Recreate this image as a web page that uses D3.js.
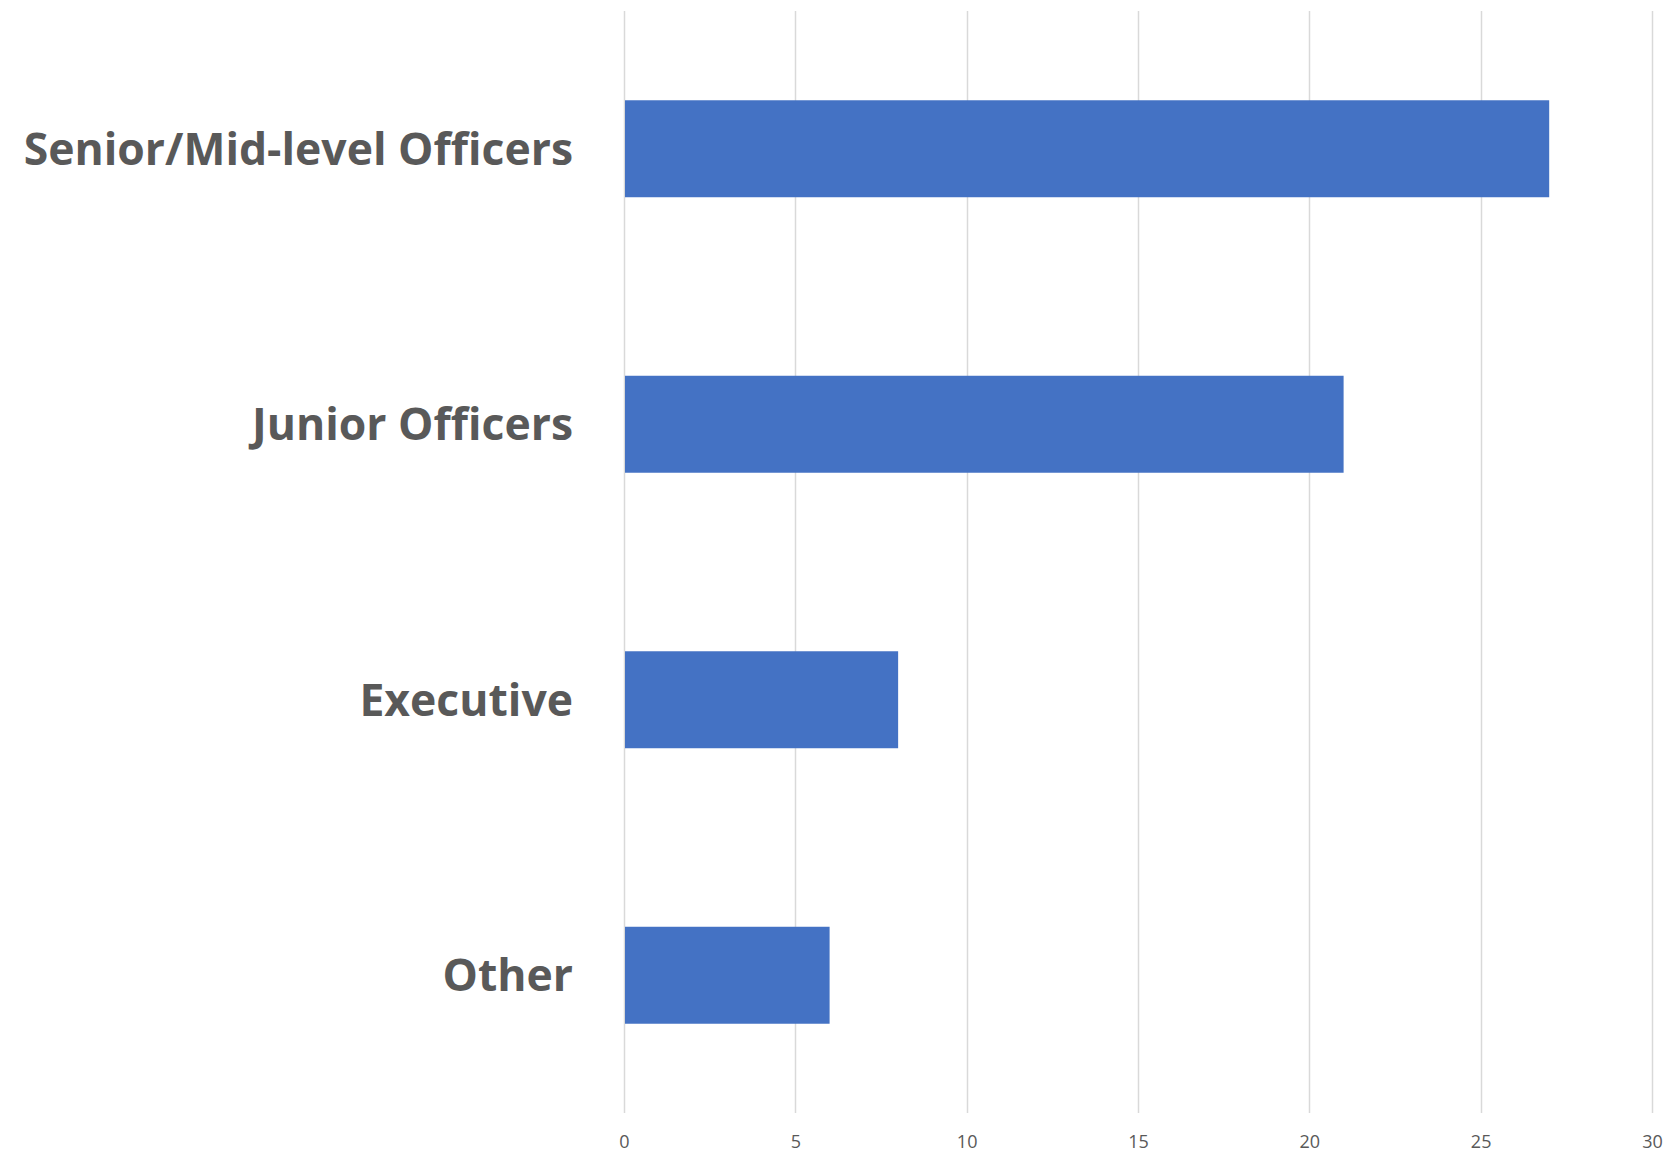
<!DOCTYPE html>
<html>
<head>
<meta charset="utf-8">
<script src="https://cdn.jsdelivr.net/npm/d3@7"></script>
<style>
  body { margin: 0; background: #fff; }
</style>
</head>
<body>
<div class="chartWrap"></div>
<script>
var categories = ['Senior/Mid-level Officers', 'Junior Officers', 'Executive', 'Other'],
  values = [27, 21, 8, 6],
  tickValues = [0, 5, 10, 15, 20, 25, 30];

var width = 1670,
  height = 1153,
  margin = {top: 11, right: 18, bottom: 40, left: 624},
  barColor = '#4472c4',
  gridColor = '#d9d9d9',
  textColor = '#595959';

var svg = d3.select('.chartWrap')
  .append('svg')
  .attr('width', width)
  .attr('height', height);

var x = d3.scaleLinear()
  .domain([0, 30])
  .range([margin.left, width - margin.right]);

var y = d3.scaleBand()
  .domain(categories)
  .range([margin.top, height - margin.bottom])
  .paddingInner(0.648)
  .paddingOuter(0.324);

// gridlines
svg.selectAll('.grid')
  .data(tickValues)
  .enter()
    .append('line')
    .attr('class', 'grid')
    .attr('x1', function(d){ return Math.round(x(d)) + 0.5; })
    .attr('x2', function(d){ return Math.round(x(d)) + 0.5; })
    .attr('y1', margin.top)
    .attr('y2', height - margin.bottom)
    .style('stroke', gridColor)
    .style('stroke-width', 1.5);

// bars
svg.selectAll('.bar')
  .data(values)
  .enter()
    .append('rect')
    .attr('class', 'bar')
    .attr('x', x(0) + 1)
    .attr('y', function(d, i){ return y(categories[i]); })
    .attr('width', function(d){ return x(d) - x(0) - 1; })
    .attr('height', y.bandwidth())
    .style('fill', barColor);

// x axis tick labels
var xAxis = d3.axisBottom(x)
  .tickValues(tickValues)
  .tickSize(0)
  .tickPadding(0);

svg.append('g')
  .attr('transform', 'translate(0,' + (height - 11) + ')')
  .call(xAxis)
  .call(function(g){ g.select('.domain').remove(); })
  .selectAll('text')
    .attr('dy', '0.32em')
    .style('font-family', '"Open Sans", Lato, sans-serif')
    .style('font-size', '18px')
    .style('fill', textColor);

// category labels
var yAxis = d3.axisLeft(y)
  .tickSize(0)
  .tickPadding(51);

svg.append('g')
  .attr('transform', 'translate(' + margin.left + ',0)')
  .call(yAxis)
  .call(function(g){ g.select('.domain').remove(); })
  .selectAll('text')
    .attr('dy', '0.36em')
    .style('font-family', '"Open Sans", Lato, sans-serif')
    .style('font-weight', 'bold')
    .style('font-size', '44.5px')
    .style('fill', textColor);
</script>
</body>
</html>
